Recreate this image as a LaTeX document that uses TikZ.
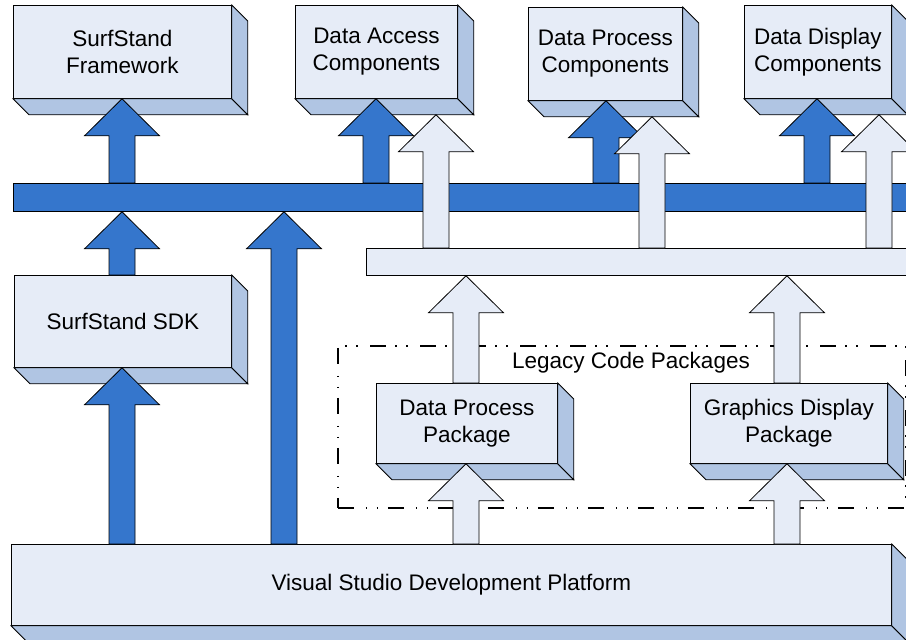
\documentclass[tikz,border=0pt]{standalone}
\usepackage{fontspec}
\setmainfont{Liberation Sans}
\usetikzlibrary{calc}
\definecolor{barblue}{RGB}{53,118,204}
\definecolor{paleblue}{RGB}{230,236,247}
\definecolor{sideblue}{RGB}{176,197,227}
% right and bottom faces of a front box
\newcommand\slab[1]{%
\filldraw [side] (#1.south west) -- (#1.south east) -- ($(#1.south east)+(16,16)$) -- ($(#1.south west)+(16,16)$) -- cycle;
\filldraw [side] (#1.north east) -- ($(#1.north east)+(16,16)$) -- ($(#1.south east)+(16,16)$) -- (#1.south east) -- cycle;
\coordinate (#1-bot) at ($(#1.south)+(0,16)$);}
% fat upward arrow in column #2, from #3 to #4
\newcommand\blockup[4]{%
\coordinate (b) at (#2,0 |- #3);
\coordinate (t) at (#2,0 |- #4);
\filldraw [#1] ($(b)+(-13,0)$) -- ($(t)+(-13,37)$) -- ($(t)+(-37.5,37)$) -- (t) -- ($(t)+(37.5,37)$) -- ($(t)+(13,37)$) -- ($(b)+(13,0)$) -- cycle;}

\begin{document}
\begin{tikzpicture}[x=1pt,y=-1pt,line width=0.8pt]
\tikzstyle{every node}+=[inner sep=0pt]
\tikzstyle{box}=[draw, fill=paleblue, anchor=north west, align=center, font=\fontsize{22.5}{27}\selectfont]
\tikzstyle{side}=[fill=sideblue, draw=black]
\tikzstyle{darkarrow}=[fill=barblue, draw=black]
\tikzstyle{palearrow}=[fill=paleblue, draw=black]
\tikzstyle{legacyline}=[draw, line width=1.8pt, dash pattern=on 16pt off 12pt on 1.5pt off 9.5pt on 1.5pt off 9.5pt]
\useasboundingbox (0,0) rectangle (906,640);
\clip (0,0) rectangle (906,640);
% legacy group
\node [legacyline, anchor=north west, minimum width=568pt, minimum height=162pt] (legacy) at (337,345) {};
\node [font=\fontsize{22.5}{27}\selectfont] (leglabel) at (631,363) {Legacy Code Packages};
% boxes
\node [box, minimum width=218pt, minimum height=93pt] (fw) at (13,5) {SurfStand\\Framework};
\slab{fw}
\node [box, minimum width=162pt, minimum height=93pt] (dac) at (295,5) {Data Access\\Components};
\slab{dac}
\node [box, minimum width=154pt, minimum height=93pt] (dpc) at (528,7) {Data Process\\Components};
\slab{dpc}
\node [box, minimum width=147pt, minimum height=93pt] (ddc) at (744,5) {Data Display\\Components};
\slab{ddc}
\node [box, minimum width=217pt, minimum height=92pt] (sdk) at (14,275) {SurfStand SDK};
\slab{sdk}
\node [box, minimum width=181pt, minimum height=80pt] (dpp) at (376,383) {Data Process\\Package};
\slab{dpp}
\node [box, minimum width=197pt, minimum height=80pt] (gdp) at (690,383) {Graphics Display\\Package};
\slab{gdp}
\node [box, minimum width=880pt, minimum height=81pt] (vs) at (11,544) {Visual Studio Development Platform};
\slab{vs}
% bars
\node [draw, fill=barblue, anchor=north west, minimum width=920pt, minimum height=28pt] (bus) at (13,183) {};
\node [draw, fill=paleblue, anchor=north west, minimum width=560pt, minimum height=27pt] (lbar) at (366,248) {};
% dark arrows
\blockup{darkarrow}{122}{bus.north}{fw.south}
\blockup{darkarrow}{376}{bus.north}{dac.south}
\blockup{darkarrow}{606}{bus.north}{dpc.south}
\blockup{darkarrow}{817}{bus.north}{ddc.south}
\blockup{darkarrow}{122}{sdk.north}{bus.south}
\blockup{darkarrow}{122}{vs.north}{sdk.south}
\blockup{darkarrow}{284}{vs.north}{bus.south}
% pale arrows
\blockup{palearrow}{436}{lbar.north}{dac-bot}
\blockup{palearrow}{652}{lbar.north}{dpc-bot}
\blockup{palearrow}{879}{lbar.north}{ddc-bot}
\blockup{palearrow}{466}{dpp.north}{lbar.south}
\blockup{palearrow}{787}{gdp.north}{lbar.south}
\blockup{palearrow}{466}{vs.north}{dpp.south}
\blockup{palearrow}{787}{vs.north}{gdp.south}
\end{tikzpicture}
\end{document}
